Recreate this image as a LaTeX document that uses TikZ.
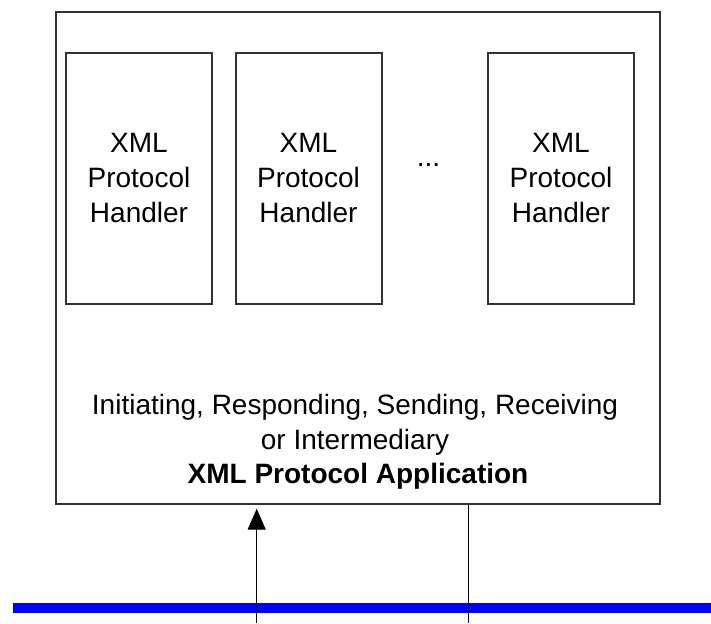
\documentclass[tikz,border=0pt]{standalone}
\usepackage{fontspec}
\setmainfont{Liberation Sans}
\usetikzlibrary{arrows.meta}
\definecolor{busblue}{RGB}{0,0,255}
\definecolor{frame}{RGB}{50,50,50}
\begin{document}
\begin{tikzpicture}[x=1pt,y=-1pt,
  txt/.style={font=\fontsize{28}{35}\selectfont, inner sep=0pt},
  appbox/.style={draw=frame, line width=2pt, minimum width=604.5pt, minimum height=492pt, inner sep=0pt},
  handler/.style={draw=frame, line width=2pt, minimum width=146pt, minimum height=250.4pt,
    align=center, inner sep=0pt, font=\fontsize{28}{35}\selectfont},
  link/.style={line width=1.3pt, black},
  bus/.style={line width=10pt, busblue}]
  \useasboundingbox (0,0) rectangle (711,623);

  % application frame and its protocol handlers
  \node[appbox] (app) at (357.75,257.7) {};
  \node[handler] (h1) at (139,178.5) {XML\\Protocol\\Handler};
  \node[handler] (h2) at (308.5,178.5) {XML\\Protocol\\Handler};
  \node[handler] (h3) at (561,178.5) {XML\\Protocol\\Handler};
  \node[txt, anchor=base] (dots) at (428.5,166) {...};

  % caption inside the frame
  \node[txt, anchor=base] (role1) at (355,414) {Initiating, Responding, Sending, Receiving};
  \node[txt, anchor=base] (role2) at (355,449) {or Intermediary};
  \node[txt, anchor=base, font=\fontsize{28}{35}\selectfont\bfseries] (title) at (358,483) {XML Protocol Application};

  % transport bus
  \coordinate (busL) at (13,608);
  \coordinate (busR) at (711,608);
  \draw[bus] (busL) -- (busR);

  % inbound and outbound links
  \coordinate (inlink) at (256.7,623);
  \coordinate (outlink) at (468.3,623);
  \draw[link, -{Triangle[length=21pt,width=18pt]}, shorten >=4pt] (inlink) -- (inlink |- app.south);
  \draw[link] (outlink |- app.south) -- (outlink);
\end{tikzpicture}
\end{document}
